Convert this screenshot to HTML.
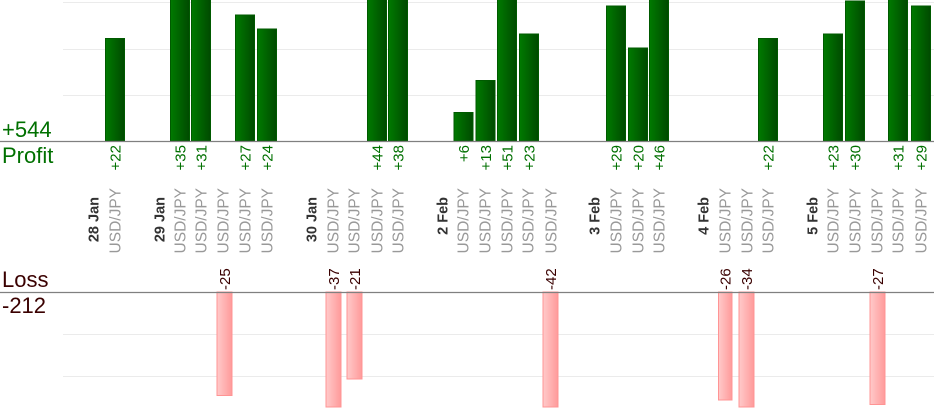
<!DOCTYPE html>
<html><head><meta charset="utf-8"><style>
html,body{margin:0;padding:0;background:#fff;width:934px;height:420px;overflow:hidden}
svg{display:block;font-family:"Liberation Sans",Arial,sans-serif}
</style></head><body>
<svg width="934" height="420" viewBox="0 0 934 420" xmlns="http://www.w3.org/2000/svg">
<defs>
<linearGradient id="g" x1="0" x2="1" y1="0" y2="0"><stop offset="0" stop-color="#007a00"/><stop offset="1" stop-color="#004a00"/></linearGradient>
<linearGradient id="r" x1="0" x2="1" y1="0" y2="0"><stop offset="0" stop-color="#ffcaca"/><stop offset="1" stop-color="#ff9a9a"/></linearGradient>
</defs>
<g stroke="#ebebeb" stroke-width="1">
<line x1="63" x2="934" y1="2.5" y2="2.5"/><line x1="63" x2="934" y1="49.5" y2="49.5"/><line x1="63" x2="934" y1="95.5" y2="95.5"/>
<line x1="63" x2="934" y1="334.5" y2="334.5"/><line x1="63" x2="934" y1="376.5" y2="376.5"/>
</g>
<g fill="url(#g)" stroke="#005a00" stroke-width="1">
<rect x="105.5" y="38.5" width="19" height="102.5"/>
<rect x="170.5" y="-1" width="19" height="142"/>
<rect x="191.5" y="-1" width="19" height="142"/>
<rect x="235.5" y="15" width="19" height="126"/>
<rect x="257.5" y="29" width="19" height="112"/>
<rect x="367.5" y="-1" width="19" height="142"/>
<rect x="388.5" y="-1" width="19" height="142"/>
<rect x="454" y="112.5" width="19" height="28.5"/>
<rect x="476" y="80.5" width="19" height="60.5"/>
<rect x="497.5" y="-1" width="19" height="142"/>
<rect x="519.5" y="34" width="19" height="107"/>
<rect x="606.5" y="6" width="19" height="135"/>
<rect x="628.5" y="48" width="19" height="93"/>
<rect x="649.5" y="-1" width="19" height="142"/>
<rect x="758.5" y="38.5" width="19" height="102.5"/>
<rect x="823.5" y="34" width="19" height="107"/>
<rect x="845.5" y="1" width="19" height="140"/>
<rect x="888.5" y="-1" width="19" height="142"/>
<rect x="911.5" y="6" width="19" height="135"/>
</g>
<g fill="url(#r)" stroke="#ff9494" stroke-width="1">
<rect x="217" y="292" width="15" height="103.5"/>
<rect x="326" y="292" width="15" height="115"/>
<rect x="347" y="292" width="15" height="87"/>
<rect x="543" y="292" width="15" height="115"/>
<rect x="718.5" y="292" width="13.5" height="108"/>
<rect x="739" y="292" width="15" height="115"/>
<rect x="870" y="292" width="15" height="112.5"/>
</g>
<line x1="0" x2="934" y1="141.5" y2="141.5" stroke="#808080" stroke-width="1.3"/>
<line x1="0" x2="934" y1="292.5" y2="292.5" stroke="#808080" stroke-width="1.3"/>
<g font-size="22">
<text x="2" y="137" fill="#007000">+544</text>
<text x="2" y="163" fill="#007000">Profit</text>
<text x="2" y="287" fill="#3a0000">Loss</text>
<text x="2" y="313" fill="#3a0000">-212</text>
</g>
<g font-size="15" fill="#007000" text-anchor="end">
<text transform="translate(120.5,145) rotate(-90)">+22</text>
<text transform="translate(185.5,145) rotate(-90)">+35</text>
<text transform="translate(206.5,145) rotate(-90)">+31</text>
<text transform="translate(250.5,145) rotate(-90)">+27</text>
<text transform="translate(272.5,145) rotate(-90)">+24</text>
<text transform="translate(382.5,145) rotate(-90)">+44</text>
<text transform="translate(403.5,145) rotate(-90)">+38</text>
<text transform="translate(469,145) rotate(-90)">+6</text>
<text transform="translate(491,145) rotate(-90)">+13</text>
<text transform="translate(512.5,145) rotate(-90)">+51</text>
<text transform="translate(534.5,145) rotate(-90)">+23</text>
<text transform="translate(621.5,145) rotate(-90)">+29</text>
<text transform="translate(643.5,145) rotate(-90)">+20</text>
<text transform="translate(664.5,145) rotate(-90)">+46</text>
<text transform="translate(773.5,145) rotate(-90)">+22</text>
<text transform="translate(838.5,145) rotate(-90)">+23</text>
<text transform="translate(860.5,145) rotate(-90)">+30</text>
<text transform="translate(903.5,145) rotate(-90)">+31</text>
<text transform="translate(926.5,145) rotate(-90)">+29</text>
</g>
<g font-size="15.5" fill="#999" text-anchor="end">
<text transform="translate(120.5,188) rotate(-90)">USD/JPY</text>
<text transform="translate(185.5,188) rotate(-90)">USD/JPY</text>
<text transform="translate(206.5,188) rotate(-90)">USD/JPY</text>
<text transform="translate(228.5,188) rotate(-90)">USD/JPY</text>
<text transform="translate(250.5,188) rotate(-90)">USD/JPY</text>
<text transform="translate(272.5,188) rotate(-90)">USD/JPY</text>
<text transform="translate(338.5,188) rotate(-90)">USD/JPY</text>
<text transform="translate(359.5,188) rotate(-90)">USD/JPY</text>
<text transform="translate(382.5,188) rotate(-90)">USD/JPY</text>
<text transform="translate(403.5,188) rotate(-90)">USD/JPY</text>
<text transform="translate(468.5,188) rotate(-90)">USD/JPY</text>
<text transform="translate(490.5,188) rotate(-90)">USD/JPY</text>
<text transform="translate(512.5,188) rotate(-90)">USD/JPY</text>
<text transform="translate(533.5,188) rotate(-90)">USD/JPY</text>
<text transform="translate(556.5,188) rotate(-90)">USD/JPY</text>
<text transform="translate(621.5,188) rotate(-90)">USD/JPY</text>
<text transform="translate(643.5,188) rotate(-90)">USD/JPY</text>
<text transform="translate(664.5,188) rotate(-90)">USD/JPY</text>
<text transform="translate(730.5,188) rotate(-90)">USD/JPY</text>
<text transform="translate(752.5,188) rotate(-90)">USD/JPY</text>
<text transform="translate(773.5,188) rotate(-90)">USD/JPY</text>
<text transform="translate(838.5,188) rotate(-90)">USD/JPY</text>
<text transform="translate(860.5,188) rotate(-90)">USD/JPY</text>
<text transform="translate(882.5,188) rotate(-90)">USD/JPY</text>
<text transform="translate(903.5,188) rotate(-90)">USD/JPY</text>
<text transform="translate(926.5,188) rotate(-90)">USD/JPY</text>
</g>
<g font-size="14.5" font-weight="bold" fill="#333" text-anchor="end">
<text transform="translate(98.5,197) rotate(-90)">28 Jan</text>
<text transform="translate(164.5,197) rotate(-90)">29 Jan</text>
<text transform="translate(316.5,197) rotate(-90)">30 Jan</text>
<text transform="translate(447.5,197) rotate(-90)">2 Feb</text>
<text transform="translate(599.5,197) rotate(-90)">3 Feb</text>
<text transform="translate(708.5,197) rotate(-90)">4 Feb</text>
<text transform="translate(817.5,197) rotate(-90)">5 Feb</text>
</g>
<g font-size="15" fill="#3a0000" text-anchor="start">
<text transform="translate(230,290) rotate(-90)">-25</text>
<text transform="translate(339,290) rotate(-90)">-37</text>
<text transform="translate(360,290) rotate(-90)">-21</text>
<text transform="translate(556,290) rotate(-90)">-42</text>
<text transform="translate(730.5,290) rotate(-90)">-26</text>
<text transform="translate(752,290) rotate(-90)">-34</text>
<text transform="translate(883,290) rotate(-90)">-27</text>
</g>
</svg>
</body></html>
